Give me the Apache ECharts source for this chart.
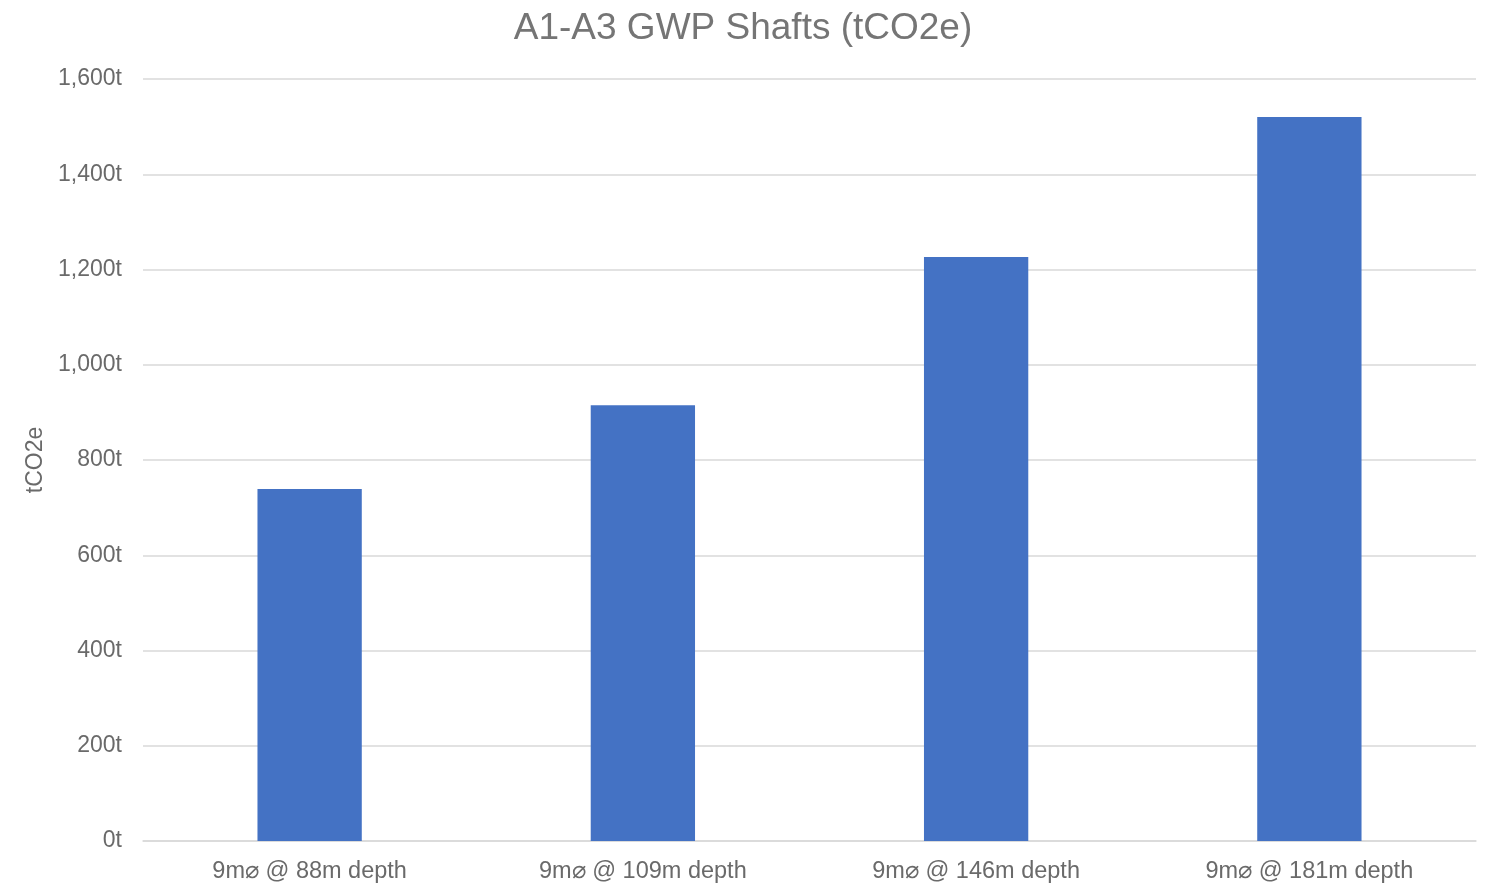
<!DOCTYPE html>
<html>
<head>
<meta charset="utf-8">
<script src="https://cdn.jsdelivr.net/npm/echarts@6/dist/echarts.min.js"></script>
<style>
  html, body { margin: 0; padding: 0; background: #fff; }
  #chart { width: 1486px; height: 885px; }
</style>
</head>
<body>
<div id="chart"></div>
<script>
// Shaft embodied carbon (A1-A3) by shaft depth
const categories = ['9m⌀ @ 88m depth', '9m⌀ @ 109m depth', '9m⌀ @ 146m depth', '9m⌀ @ 181m depth'];
const gwpValues = [739, 915, 1226, 1520];
const yTicks = { min: 0, max: 1600, interval: 200 };

const textColor = '#6a6a6a';
const fontFamily = 'Liberation Sans, Arial, sans-serif';

const chart = echarts.init(document.getElementById('chart'));
chart.setOption({
  animation: false,
  title: {
    text: 'A1-A3 GWP Shafts (tCO2e)',
    left: 'center',
    top: 5,
    textStyle: { color: '#757575', fontSize: 37, fontWeight: 'normal', fontFamily }
  },
  grid: { left: 143, right: 10, top: 79, bottom: 44 },
  xAxis: {
    type: 'category',
    data: categories,
    axisLine: { lineStyle: { color: '#d9d9d9', width: 1.5 } },
    axisTick: { show: false },
    axisLabel: { color: textColor, fontSize: 23.5, fontFamily, margin: 19 }
  },
  yAxis: {
    type: 'value',
    min: yTicks.min,
    max: yTicks.max,
    interval: yTicks.interval,
    name: 'tCO2e',
    nameLocation: 'middle',
    nameRotate: 90,
    nameGap: 96,
    nameTextStyle: { color: textColor, fontSize: 23, fontFamily },
    axisLine: { show: false },
    axisTick: { show: false },
    splitLine: { lineStyle: { color: '#d9d9d9', width: 1.5 } },
    axisLabel: {
      color: textColor, fontSize: 23, fontFamily, margin: 21,
      formatter: v => v.toLocaleString('en-US') + 't'
    }
  },
  series: [{
    type: 'bar',
    data: gwpValues,
    barWidth: '31.3%',
    itemStyle: { color: '#4472C4' }
  }]
});
</script>
</body>
</html>
